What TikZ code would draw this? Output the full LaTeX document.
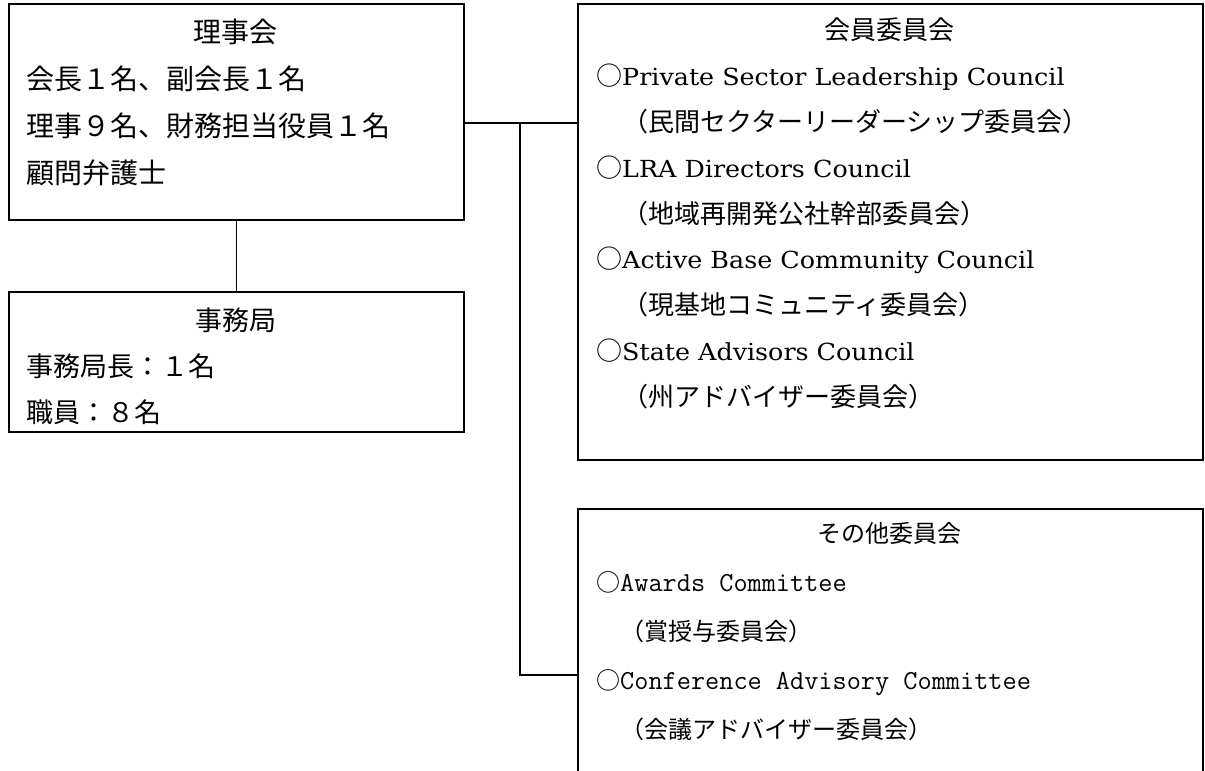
\documentclass[tikz,border=0pt]{standalone}
\usepackage{fontspec}
\newfontfamily\jp{Noto Sans CJK JP}
\newfontfamily\latserif{DejaVu Serif}[FakeStretch=1.08]
\newcommand{\monotxt}{\ttfamily\fontsize{27.5}{30}\selectfont}
\newcommand{\sertxt}{\latserif\fontsize{23.5}{30}\selectfont}
\begin{document}
\begin{tikzpicture}[x=1pt,y=-1pt,
  box/.style={draw, line width=1.6pt, rectangle, inner sep=0pt, anchor=north west},
  lnA/.style={anchor=base west, inner sep=0pt, font=\jp\fontsize{28}{30}\selectfont},
  ttlA/.style={anchor=base, inner sep=0pt, font=\jp\fontsize{28}{30}\selectfont},
  lnD/.style={anchor=base west, inner sep=0pt, font=\jp\fontsize{27}{30}\selectfont},
  ttlD/.style={anchor=base, inner sep=0pt, font=\jp\fontsize{27}{30}\selectfont},
  lnB/.style={anchor=base west, inner sep=0pt, font=\jp\fontsize{26}{30}\selectfont},
  ttlB/.style={anchor=base, inner sep=0pt, font=\jp\fontsize{26}{30}\selectfont},
  lnC/.style={anchor=base west, inner sep=0pt, font=\jp\fontsize{24}{30}\selectfont},
  ttlC/.style={anchor=base, inner sep=0pt, font=\jp\fontsize{24}{30}\selectfont},
  conn/.style={line width=1.6pt}]
\useasboundingbox (0,0) rectangle (1205,771);
\clip (0,0) rectangle (1205,771);
% boxes
\node[box, minimum width=455pt, minimum height=216pt] (b1) at (8,3) {};
\node[box, minimum width=455pt, minimum height=140pt] (b2) at (8,291) {};
\node[box, minimum width=625pt, minimum height=456pt] (b3) at (577,3) {};
\node[box, minimum width=625pt, minimum height=300pt] (b4) at (577,508) {};
% box 1
\node[ttlA] (t1) at (235.5,42) {理事会};
\node[lnA] (t1a) at (26,89) {会長１名、副会長１名};
\node[lnA] (t1b) at (26,136) {理事９名、財務担当役員１名};
\node[lnA] (t1c) at (26,183) {顧問弁護士};
% box 2
\node[ttlD] (t2) at (235.5,330) {事務局};
\node[lnD] (t2a) at (26,376) {事務局長：１名};
\node[lnD] (t2b) at (26,422) {職員：８名};
% box 3
\node[ttlB] (t3) at (889.5,39) {会員委員会};
\node[lnB] (t3a) at (596,85) {○{\sertxt Private Sector Leadership Council}};
\node[lnB] (t3b) at (596,131) {　（民間セクターリーダーシップ委員会）};
\node[lnB] (t3c) at (596,177) {○{\sertxt LRA Directors Council}};
\node[lnB] (t3d) at (596,223) {　（地域再開発公社幹部委員会）};
\node[lnB] (t3e) at (596,268) {○{\sertxt Active Base Community Council}};
\node[lnB] (t3f) at (596,314) {　（現基地コミュニティ委員会）};
\node[lnB] (t3g) at (596,360) {○{\sertxt State Advisors Council}};
\node[lnB] (t3h) at (596,406) {　（州アドバイザー委員会）};
% box 4
\node[ttlC] (t4) at (889.5,542) {その他委員会};
\node[lnC] (t4a) at (596,591) {○{\monotxt Awards Committee}};
\node[lnC] (t4b) at (596,640) {　（賞授与委員会）};
\node[lnC] (t4c) at (596,689) {○{\monotxt Conference Advisory Committee}};
\node[lnC] (t4d) at (596,738) {　（会議アドバイザー委員会）};
% connectors
\coordinate (j1) at (520,123);
\coordinate (j2) at (520,675);
\draw[conn] (b1.south) -- (b2.north);
\draw[conn] (b1.east |- j1) -- (b3.west |- j1);
\draw[conn] (j1) -- (j2) -- (b4.west |- j2);
\end{tikzpicture}
\end{document}
